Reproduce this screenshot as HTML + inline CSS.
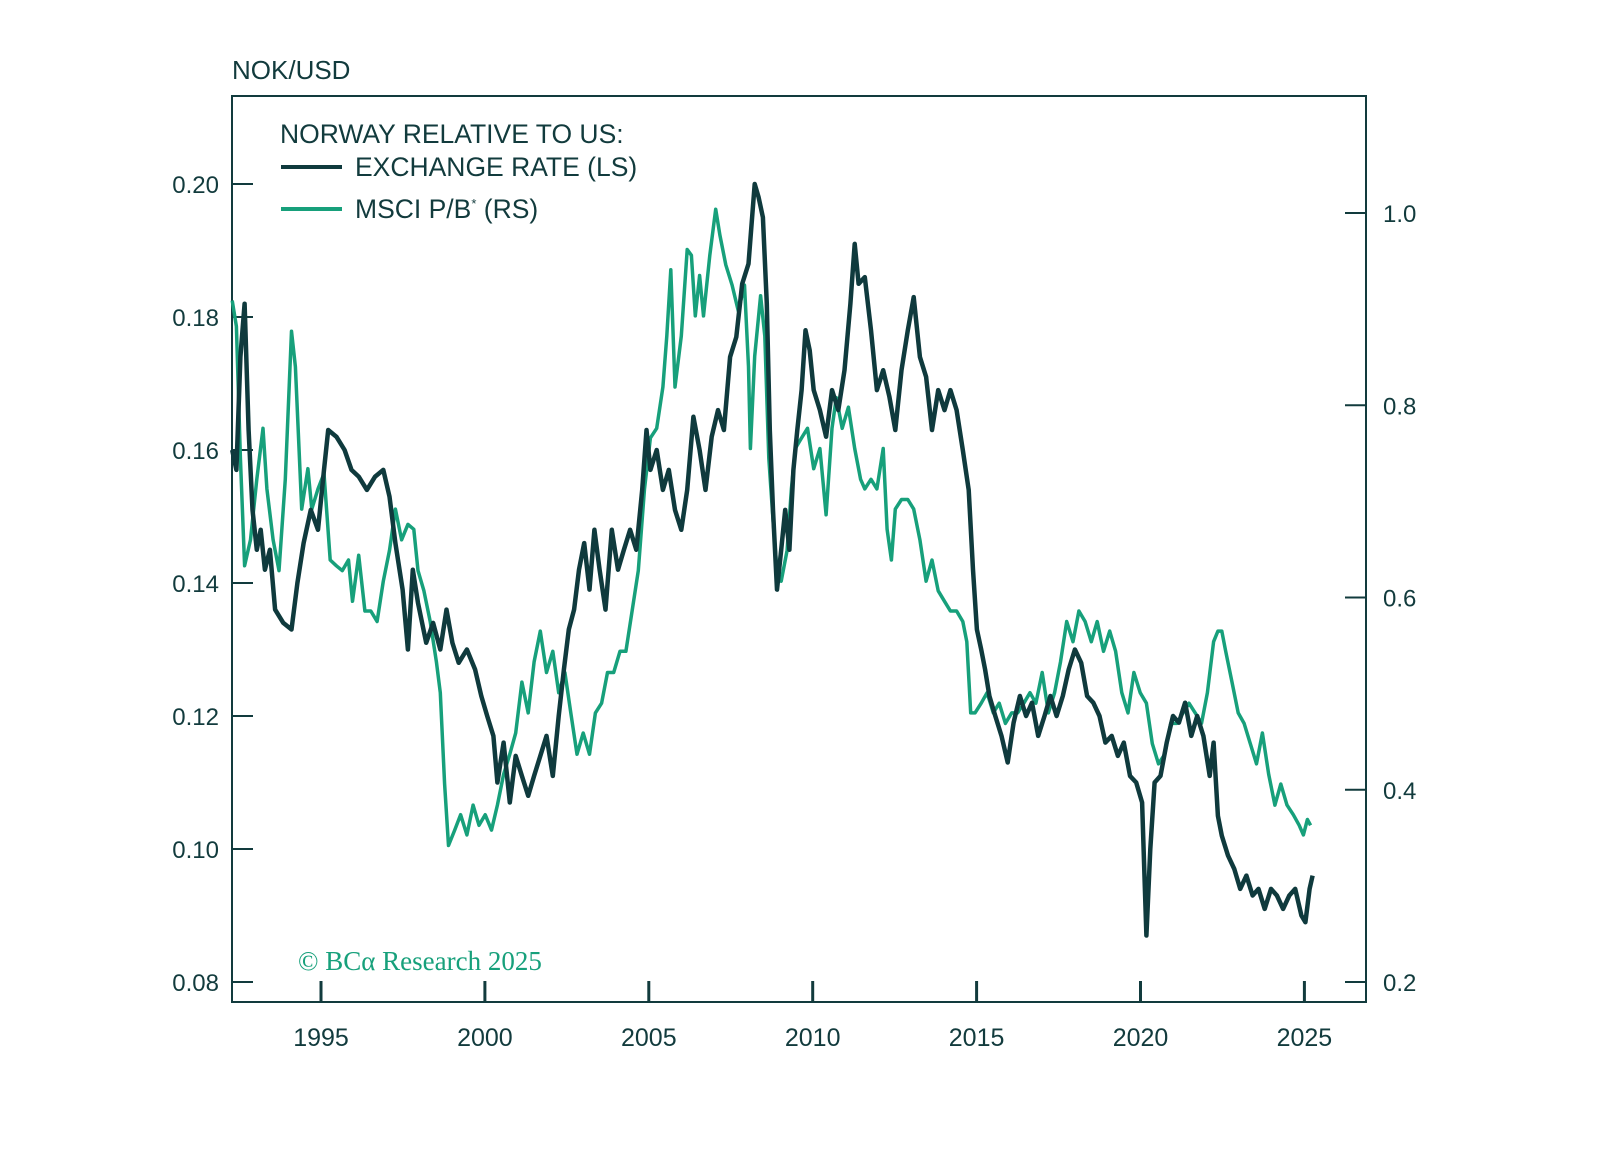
<!DOCTYPE html>
<html><head><meta charset="utf-8">
<style>
html,body{margin:0;padding:0;background:#fff;}
svg text{font-family:"Liberation Sans",sans-serif;fill:#123b3d;}
</style></head>
<body>
<svg id="chart" width="1597" height="1144" viewBox="0 0 1597 1144" xmlns="http://www.w3.org/2000/svg">
<text x="232" y="79" font-size="26">NOK/USD</text>
<rect x="232" y="96" width="1134" height="906" fill="none" stroke="#123b3d" stroke-width="2"/>
<g id="axes"></g>
<g id="series"></g>
<g>
<text x="280" y="143" font-size="26.5">NORWAY RELATIVE TO US:</text>
<line x1="281" y1="167" x2="342" y2="167" stroke="#0f3a3d" stroke-width="4"/>
<text x="355" y="176" font-size="26.5">EXCHANGE RATE (LS)</text>
<line x1="281" y1="209" x2="342" y2="209" stroke="#17a07b" stroke-width="4"/>
<text x="355" y="218" font-size="26.5">MSCI P/B<tspan font-size="13" dy="-10">*</tspan><tspan dy="10">  (RS)</tspan></text>
</g>
<text x="298" y="970" font-size="27" style="font-family:'Liberation Serif',serif;fill:#17a07b">© BCα Research 2025</text>
</svg>
<script>
const xTickYears=[1995,2000,2005,2010,2015,2020,2025];
const leftTicks=[0.08,0.10,0.12,0.14,0.16,0.18,0.20];
const leftTickLabels=["0.08","0.10","0.12","0.14","0.16","0.18","0.20"];
const rightTicks=[0.2,0.4,0.6,0.8,1.0];
const rightTickLabels=["0.2","0.4","0.6","0.8","1.0"];
const fxDates=[1992.29,1992.42,1992.54,1992.67,1992.79,1992.91,1993.04,1993.16,1993.29,1993.44,1993.60,1993.85,1994.10,1994.28,1994.47,1994.69,1994.91,1995.09,1995.22,1995.47,1995.72,1995.93,1996.15,1996.40,1996.65,1996.90,1997.09,1997.27,1997.49,1997.65,1997.80,1997.96,1998.21,1998.42,1998.64,1998.83,1999.01,1999.20,1999.45,1999.70,1999.89,2000.07,2000.26,2000.38,2000.57,2000.76,2000.94,2001.13,2001.32,2001.50,2001.69,2001.88,2002.07,2002.25,2002.41,2002.56,2002.72,2002.87,2003.03,2003.19,2003.34,2003.50,2003.68,2003.87,2004.06,2004.24,2004.43,2004.62,2004.80,2004.93,2005.05,2005.24,2005.43,2005.61,2005.80,2005.99,2006.17,2006.36,2006.55,2006.73,2006.92,2007.11,2007.29,2007.48,2007.67,2007.85,2008.04,2008.23,2008.35,2008.48,2008.60,2008.69,2008.79,2008.91,2009.04,2009.16,2009.29,2009.41,2009.53,2009.66,2009.78,2009.91,2010.03,2010.22,2010.41,2010.59,2010.78,2010.97,2011.15,2011.28,2011.40,2011.59,2011.78,2011.96,2012.15,2012.34,2012.52,2012.71,2012.90,2013.08,2013.27,2013.46,2013.64,2013.83,2014.02,2014.20,2014.39,2014.58,2014.76,2014.89,2015.01,2015.14,2015.26,2015.39,2015.57,2015.76,2015.95,2016.13,2016.32,2016.51,2016.69,2016.88,2017.07,2017.25,2017.44,2017.63,2017.81,2018.00,2018.19,2018.37,2018.56,2018.75,2018.93,2019.12,2019.31,2019.49,2019.68,2019.87,2020.05,2020.18,2020.30,2020.43,2020.61,2020.80,2020.99,2021.17,2021.36,2021.55,2021.73,2021.92,2022.11,2022.23,2022.36,2022.48,2022.67,2022.86,2023.04,2023.23,2023.42,2023.60,2023.79,2023.98,2024.16,2024.35,2024.54,2024.72,2024.91,2025.03,2025.16,2025.25];
const fxValues=[0.160,0.157,0.174,0.182,0.163,0.151,0.145,0.148,0.142,0.145,0.136,0.134,0.133,0.140,0.146,0.151,0.148,0.157,0.163,0.162,0.160,0.157,0.156,0.154,0.156,0.157,0.153,0.146,0.139,0.130,0.142,0.137,0.131,0.134,0.130,0.136,0.131,0.128,0.130,0.127,0.123,0.120,0.117,0.110,0.116,0.107,0.114,0.111,0.108,0.111,0.114,0.117,0.111,0.120,0.127,0.133,0.136,0.142,0.146,0.139,0.148,0.142,0.136,0.148,0.142,0.145,0.148,0.145,0.154,0.163,0.157,0.160,0.154,0.157,0.151,0.148,0.154,0.165,0.160,0.154,0.162,0.166,0.163,0.174,0.177,0.185,0.188,0.200,0.198,0.195,0.182,0.163,0.151,0.139,0.145,0.151,0.145,0.157,0.163,0.169,0.178,0.175,0.169,0.166,0.162,0.169,0.166,0.172,0.182,0.191,0.185,0.186,0.178,0.169,0.172,0.168,0.163,0.172,0.178,0.183,0.174,0.171,0.163,0.169,0.166,0.169,0.166,0.160,0.154,0.142,0.133,0.130,0.127,0.123,0.120,0.117,0.113,0.119,0.123,0.120,0.122,0.117,0.120,0.123,0.120,0.123,0.127,0.130,0.128,0.123,0.122,0.120,0.116,0.117,0.114,0.116,0.111,0.110,0.107,0.087,0.100,0.110,0.111,0.116,0.120,0.119,0.122,0.117,0.120,0.117,0.111,0.116,0.105,0.102,0.099,0.097,0.094,0.096,0.093,0.094,0.091,0.094,0.093,0.091,0.093,0.094,0.090,0.089,0.094,0.096];
const pbDates=[1992.29,1992.42,1992.54,1992.67,1992.85,1993.04,1993.23,1993.35,1993.54,1993.72,1993.91,1994.10,1994.22,1994.41,1994.60,1994.72,1994.91,1995.09,1995.28,1995.47,1995.65,1995.84,1995.96,1996.15,1996.34,1996.52,1996.71,1996.90,1997.09,1997.27,1997.46,1997.65,1997.83,1997.96,1998.14,1998.33,1998.52,1998.64,1998.77,1998.89,1999.08,1999.26,1999.45,1999.64,1999.82,2000.01,2000.20,2000.38,2000.57,2000.76,2000.94,2001.13,2001.32,2001.50,2001.69,2001.88,2002.07,2002.25,2002.44,2002.62,2002.81,2003.00,2003.19,2003.37,2003.56,2003.74,2003.93,2004.12,2004.30,2004.49,2004.68,2004.87,2005.05,2005.24,2005.43,2005.55,2005.67,2005.80,2005.99,2006.17,2006.30,2006.42,2006.55,2006.67,2006.86,2007.04,2007.17,2007.35,2007.54,2007.73,2007.92,2008.04,2008.10,2008.23,2008.41,2008.54,2008.66,2008.79,2008.91,2009.04,2009.22,2009.35,2009.47,2009.66,2009.84,2010.03,2010.22,2010.41,2010.59,2010.72,2010.90,2011.09,2011.28,2011.46,2011.59,2011.78,2011.96,2012.15,2012.27,2012.40,2012.52,2012.71,2012.90,2013.08,2013.27,2013.46,2013.64,2013.83,2014.02,2014.20,2014.39,2014.58,2014.70,2014.82,2014.95,2015.14,2015.32,2015.51,2015.69,2015.88,2016.07,2016.25,2016.44,2016.63,2016.81,2017.00,2017.19,2017.38,2017.56,2017.75,2017.94,2018.12,2018.31,2018.50,2018.68,2018.87,2019.06,2019.24,2019.43,2019.62,2019.80,2019.99,2020.18,2020.36,2020.55,2020.74,2020.92,2021.11,2021.30,2021.48,2021.67,2021.86,2022.04,2022.23,2022.36,2022.48,2022.60,2022.79,2022.98,2023.16,2023.35,2023.54,2023.72,2023.91,2024.10,2024.28,2024.47,2024.66,2024.84,2024.97,2025.09,2025.19];
const pbValues=[0.909,0.882,0.745,0.633,0.660,0.723,0.776,0.713,0.660,0.628,0.723,0.877,0.840,0.692,0.734,0.692,0.713,0.729,0.639,0.633,0.628,0.639,0.596,0.644,0.586,0.586,0.575,0.617,0.649,0.692,0.660,0.676,0.671,0.628,0.607,0.575,0.533,0.501,0.406,0.342,0.358,0.374,0.353,0.384,0.363,0.374,0.358,0.384,0.416,0.437,0.459,0.512,0.480,0.533,0.565,0.522,0.544,0.501,0.522,0.480,0.437,0.459,0.437,0.480,0.490,0.522,0.522,0.544,0.544,0.586,0.628,0.713,0.766,0.776,0.819,0.872,0.941,0.819,0.872,0.962,0.956,0.893,0.935,0.893,0.956,1.004,0.977,0.946,0.925,0.898,0.925,0.840,0.755,0.851,0.914,0.872,0.745,0.681,0.628,0.617,0.649,0.713,0.755,0.766,0.776,0.734,0.755,0.686,0.776,0.808,0.776,0.798,0.755,0.723,0.713,0.723,0.713,0.755,0.671,0.639,0.692,0.702,0.702,0.692,0.660,0.617,0.639,0.607,0.596,0.586,0.586,0.575,0.554,0.480,0.480,0.490,0.501,0.480,0.490,0.469,0.480,0.480,0.490,0.501,0.490,0.522,0.480,0.501,0.533,0.575,0.554,0.586,0.575,0.554,0.575,0.544,0.565,0.544,0.501,0.480,0.522,0.501,0.490,0.448,0.427,0.437,0.469,0.469,0.480,0.490,0.480,0.469,0.501,0.554,0.565,0.565,0.544,0.512,0.480,0.469,0.448,0.427,0.459,0.416,0.384,0.406,0.384,0.374,0.363,0.353,0.369,0.363];

const NS="http://www.w3.org/2000/svg";
function xScale(yr){return 321+(yr-1995)*32.78;}
function yLeft(v){return 982-(v-0.08)/0.02*133;}
function yRight(v){return 982-(v-0.2)/0.2*192.25;}
function mk(tag,attrs,parent){const e=document.createElementNS(NS,tag);for(const k in attrs)e.setAttribute(k,attrs[k]);parent.appendChild(e);return e;}
const axes=document.getElementById('axes');
xTickYears.forEach((yr,i)=>{
  const t=mk('line',{x1:xScale(yr),x2:xScale(yr),y1:981,y2:1002,stroke:'#123b3d','stroke-width':3},axes);
  
  
  const l=mk('text',{x:xScale(yr),y:1046,'font-size':25,'text-anchor':'middle'},axes);
  l.textContent=String(yr);
  
  
});
leftTicks.forEach((v,i)=>{
  const t=mk('line',{x1:232,x2:253,y1:yLeft(v),y2:yLeft(v),stroke:'#123b3d','stroke-width':2},axes);
  
  
  const l=mk('text',{x:219,y:yLeft(v)+9,'font-size':24,'text-anchor':'end'},axes);
  l.textContent=leftTickLabels[i];
  
  
});
rightTicks.forEach((v,i)=>{
  const t=mk('line',{x1:1345,x2:1366,y1:yRight(v),y2:yRight(v),stroke:'#123b3d','stroke-width':2},axes);
  
  
  const l=mk('text',{x:1383,y:yRight(v)+9,'font-size':24,'text-anchor':'start'},axes);
  l.textContent=rightTickLabels[i];
  
  
});
const series=document.getElementById('series');
const pbPath=pbDates.map((d,i)=>(i?'L':'M')+xScale(d).toFixed(1)+' '+yRight(pbValues[i]).toFixed(1)).join(' ');
const pb=mk('path',{d:pbPath,fill:'none',stroke:'#17a07b','stroke-width':3.5,'stroke-linejoin':'round'},series);


const fxPath=fxDates.map((d,i)=>(i?'L':'M')+xScale(d).toFixed(1)+' '+yLeft(fxValues[i]).toFixed(1)).join(' ');
const fx=mk('path',{d:fxPath,fill:'none',stroke:'#0f3a3d','stroke-width':4.5,'stroke-linejoin':'round'},series);


</script>
</body></html>
